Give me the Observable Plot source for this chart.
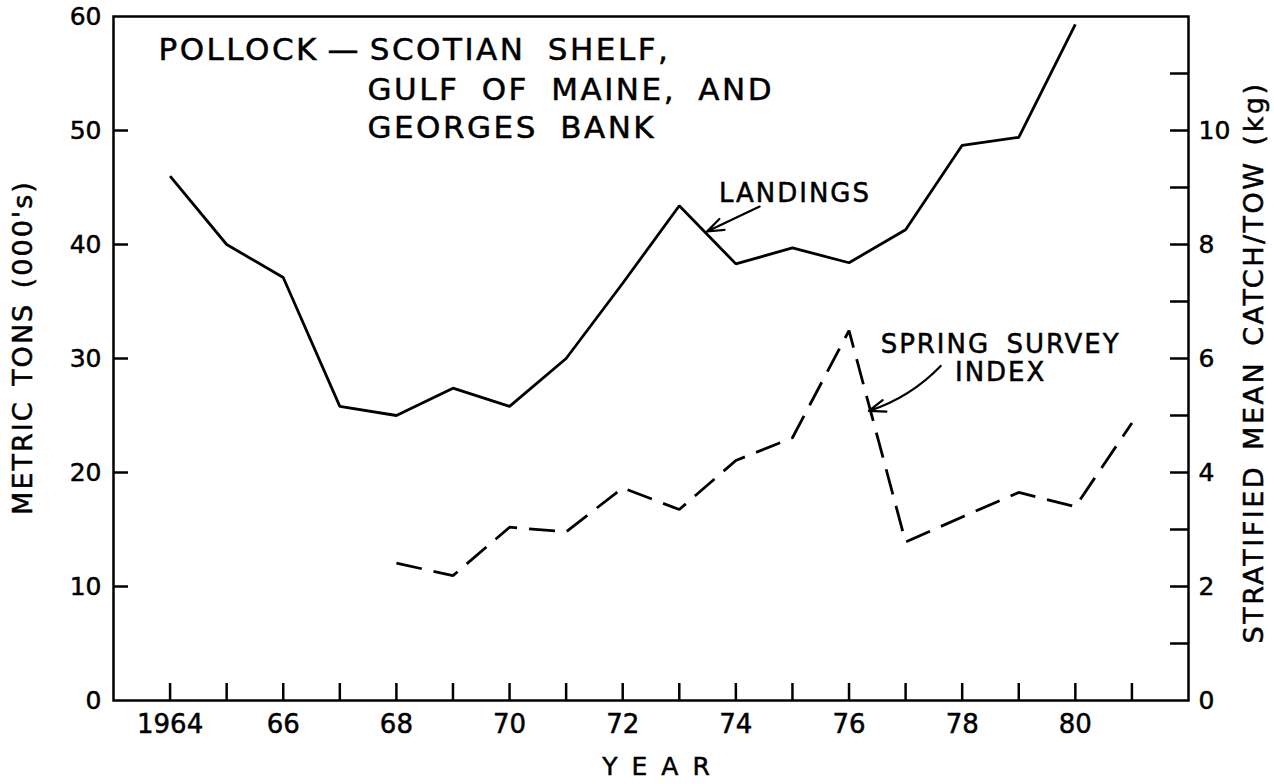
<!DOCTYPE html>
<html>
<head>
<meta charset="utf-8">
<script src="https://cdn.jsdelivr.net/npm/d3@7"></script>
<script src="https://cdn.jsdelivr.net/npm/@observablehq/plot@0.6"></script>
<style>
  html, body { margin: 0; padding: 0; background: #fff; }
  #chart svg { display: block; }
</style>
</head>
<body>
<div id="chart"></div>
<script>
// ---- data ----
const landingYears = [1964, 1965, 1966, 1967, 1968, 1969, 1970, 1971, 1972, 1973, 1974, 1975, 1976, 1977, 1978, 1979, 1980];
const landings = [46.0, 40.0, 37.1, 25.8, 25.0, 27.4, 25.8, 30.0, 36.6, 43.4, 38.3, 39.7, 38.4, 41.3, 48.7, 49.4, 59.3]; // metric tons (000's)
const surveyYears = [1968, 1969, 1970, 1971, 1972, 1973, 1974, 1975, 1976, 1977, 1978, 1979, 1980, 1981];
const survey = [2.41, 2.19, 3.04, 2.96, 3.73, 3.35, 4.21, 4.61, 6.49, 2.78, 3.22, 3.65, 3.40, 4.87]; // kg per tow

const leftTicks = [0, 10, 20, 30, 40, 50, 60];
const leftInnerTicks = [10, 20, 30, 40, 50];
const rightTicks = [0, 2, 4, 6, 8, 10];
const rightInnerTicks = [1, 2, 3, 4, 5, 6, 7, 8, 9, 10, 11];
const yearTicks = [1964, 1965, 1966, 1967, 1968, 1969, 1970, 1971, 1972, 1973, 1974, 1975, 1976, 1977, 1978, 1979, 1980, 1981];
const yearLabels = [1964, 1966, 1968, 1970, 1972, 1974, 1976, 1978, 1980];

const titleLines = ["POLLOCK\u2009—\u2009SCOTIAN SHELF,", "GULF OF MAINE, AND", "GEORGES BANK"];
const leftLabel = "METRIC TONS (000's)";
const rightLabel = "STRATIFIED MEAN CATCH/TOW (kg)";
const xLabel = "YEAR";
const landingsLabel = "LANDINGS";
const surveyLabel = "SPRING SURVEY\nINDEX";

const tonsPerKg = 60 / 12; // right axis 0–12 kg spans the same height as 0–60 tons

// ---- layout ----
const W = 1274, H = 784;
const mL = 113, mR = 86, mT = 16, mB = 84;
const frameW = W - mL - mR, frameH = H - mT - mB;
const font = "DejaVu Sans";
const ink = "#000";
const lw = 2.5;

const landingData = landingYears.map((year, i) => ({year, value: landings[i]}));
const surveyData = surveyYears.map((year, i) => ({year, value: survey[i]}));

const chart = Plot.plot({
  width: W,
  height: H,
  marginLeft: mL,
  marginRight: mR,
  marginTop: mT,
  marginBottom: mB,
  style: {fontFamily: font, background: "#fff", color: ink, overflow: "visible"},
  x: {domain: [1963, 1982], axis: null},
  y: {domain: [0, 60], axis: null},
  marks: [
    // inward tick marks
    Plot.ruleX(yearTicks, {stroke: ink, strokeWidth: lw, insetTop: frameH - 17}),
    Plot.ruleY(leftInnerTicks, {stroke: ink, strokeWidth: lw, insetRight: frameW - 15}),
    Plot.ruleY(rightInnerTicks, {y: d => d * tonsPerKg, stroke: ink, strokeWidth: lw, insetLeft: frameW - 18}),
    Plot.frame({stroke: ink, strokeWidth: lw}),
    // tick labels
    Plot.axisX(yearLabels, {tickSize: 0, tickPadding: 14, fontSize: 26, label: null,
      tickFormat: d => d === 1964 ? "1964" : String(d % 100)}),
    Plot.axisY(leftTicks, {anchor: "left", tickSize: 0, tickPadding: 12, fontSize: 25, label: null,
      tickFormat: d => String(d)}),
    Plot.axisY(rightTicks.map(d => d * tonsPerKg), {anchor: "right", tickSize: 0, tickPadding: 10, fontSize: 25, label: null,
      tickFormat: d => String(Math.round(d / tonsPerKg))}),
    // data
    Plot.line(landingData, {x: "year", y: "value", stroke: ink, strokeWidth: 2.8,
      strokeLinejoin: "miter", strokeLinecap: "butt"}),
    Plot.line(surveyData, {x: "year", y: d => d.value * tonsPerKg, stroke: ink, strokeWidth: 2.8,
      strokeDasharray: "26,12", strokeLinejoin: "miter", strokeLinecap: "butt"}),
    // annotations
    Plot.text([titleLines[0]], {frameAnchor: "top-left", textAnchor: "start", lineAnchor: "bottom",
      dx: 45, dy: 43, fontSize: 31, text: d => d}),
    Plot.text([titleLines[1]], {frameAnchor: "top-left", textAnchor: "start", lineAnchor: "bottom",
      dx: 254, dy: 83, fontSize: 31, text: d => d}),
    Plot.text([titleLines[2]], {frameAnchor: "top-left", textAnchor: "start", lineAnchor: "bottom",
      dx: 254, dy: 121, fontSize: 31, text: d => d}),
    Plot.text([landingsLabel], {x: () => 1973.70, y: () => 43.77, textAnchor: "start", lineAnchor: "bottom",
      fontSize: 26, text: d => d}),
    Plot.arrow([{x1: 1974.42, y1: 43.33, x2: 1973.49, y2: 41.14}], {x1: "x1", y1: "y1", x2: "x2", y2: "y2",
      stroke: ink, strokeWidth: 2.2, headLength: 12, headAngle: 40}),
    Plot.text([surveyLabel], {x: () => 1978.68, y: () => 6.44 * tonsPerKg, textAnchor: "middle", lineAnchor: "top",
      lineHeight: 1.06, fontSize: 26, text: d => d}),
    Plot.arrow([{x1: 1977.62, y1: 5.87, x2: 1976.35, y2: 5.08}], {x1: "x1", y1: d => d.y1 * tonsPerKg,
      x2: "x2", y2: d => d.y2 * tonsPerKg, bend: 14,
      stroke: ink, strokeWidth: 2.2, headLength: 12, headAngle: 40}),
    // axis titles
    Plot.text([leftLabel], {frameAnchor: "left", textAnchor: "middle", lineAnchor: "middle", rotate: -90,
      dx: -90, dy: -11, fontSize: 27, text: d => d}),
    Plot.text([rightLabel], {frameAnchor: "right", textAnchor: "middle", lineAnchor: "middle", rotate: -90,
      dx: 66, dy: 4, fontSize: 27, text: d => d}),
    Plot.text([xLabel], {frameAnchor: "bottom", textAnchor: "middle", lineAnchor: "bottom",
      dx: 12, dy: 74, fontSize: 25, text: d => d})
  ]
});

// letter / word spacing and a slightly heavier stroke to mimic the hand-lettered originals
const spacing = new Map([
  [titleLines[0], {ls: 2.5, ws: 10}],
  [titleLines[1], {ls: 2.5, ws: 10}],
  [titleLines[2], {ls: 2.5, ws: 10}],
  [leftLabel, {ls: 2, ws: 4}],
  [rightLabel, {ls: 2.5, ws: 4}],
  [xLabel, {ls: 14, ws: 0}],
  [landingsLabel, {ls: 2, ws: 0}],
  [surveyLabel.replace("\n", ""), {ls: 2, ws: 6}]
]);
d3.select(chart).selectAll("text").each(function () {
  const sel = d3.select(this).style("stroke", ink).style("stroke-width", "0.5px");
  const s = spacing.get(this.textContent);
  if (s) {
    sel.style("letter-spacing", s.ls + "px").style("word-spacing", s.ws + "px");
  }
});

document.getElementById("chart").appendChild(chart);
</script>
</body>
</html>
